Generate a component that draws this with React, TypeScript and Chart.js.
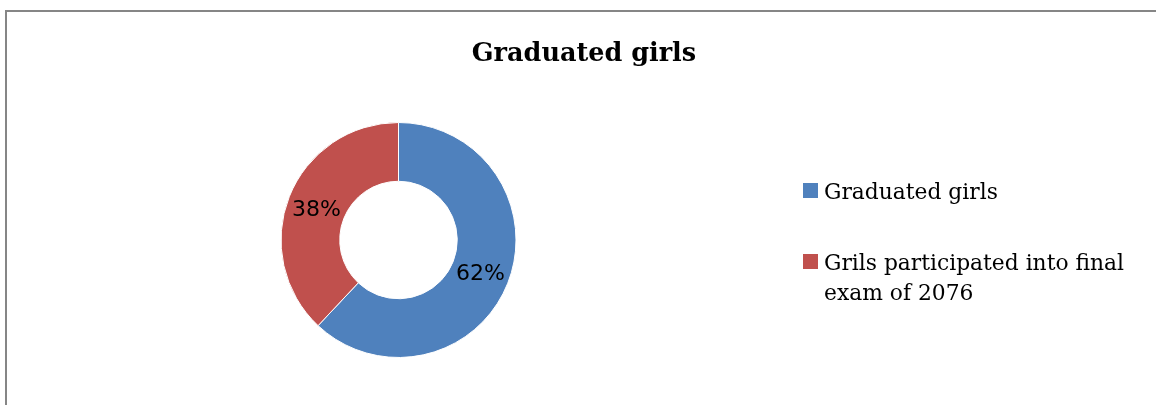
import React, { useEffect, useRef } from "react";
import { Chart, registerables } from "chart.js";

Chart.register(...registerables);

const chartTitle = "Graduated girls";
const categories = ["Graduated girls", "Grils participated into final exam of 2076"];
const values = [62, 38];
const sliceColors = ["#4F81BD", "#C0504D"];

const W = 1156;
const H = 405;

const framePlugin = {
  id: "frame",
  beforeDraw(chart: any) {
    const ctx = chart.ctx;
    ctx.save();
    ctx.fillStyle = "#ffffff";
    ctx.fillRect(0, 0, W, H);
    ctx.fillStyle = "#868686";
    ctx.fillRect(5, 10, W - 5, 2);
    ctx.fillRect(5, 10, 2, H - 10);
    ctx.restore();
  },
};

const titlePlugin = {
  id: "customTitle",
  afterDraw(chart: any) {
    const ctx = chart.ctx;
    ctx.save();
    ctx.font = "bold 25.5px 'DejaVu Serif'";
    ctx.fillStyle = "#000000";
    ctx.textAlign = "center";
    ctx.textBaseline = "alphabetic";
    ctx.fillText(chartTitle, 584, 61);
    ctx.restore();
  },
};

const labelPlugin = {
  id: "sliceLabels",
  afterDatasetsDraw(chart: any) {
    const ctx = chart.ctx;
    const meta = chart.getDatasetMeta(0);
    const data = chart.data.datasets[0].data as number[];
    const total = data.reduce((a, b) => a + b, 0);
    ctx.save();
    ctx.font = "22px 'DejaVu Sans'";
    ctx.fillStyle = "#000000";
    ctx.textAlign = "center";
    ctx.textBaseline = "alphabetic";
    meta.data.forEach((arc: any, i: number) => {
      const p = arc.tooltipPosition(false);
      const txt = Math.round((data[i] / total) * 100) + "%";
      ctx.fillText(txt, p.x, p.y + 8);
    });
    ctx.restore();
  },
};

const legendPlugin = {
  id: "customLegend",
  afterDraw(chart: any) {
    const ctx = chart.ctx;
    const labels = chart.data.labels as string[];
    const colors = chart.data.datasets[0].backgroundColor as string[];
    ctx.save();
    ctx.font = "21.8px 'DejaVu Serif'";
    ctx.textAlign = "left";
    ctx.textBaseline = "alphabetic";
    const boxX = 803;
    const textX = 824;
    const maxW = 320;
    const lineH = 30;
    let baseline = 199;
    labels.forEach((label, i) => {
      const words = label.split(" ");
      const lines: string[] = [];
      let cur = "";
      words.forEach((w) => {
        const test = cur ? cur + " " + w : w;
        if (ctx.measureText(test).width > maxW && cur) {
          lines.push(cur);
          cur = w;
        } else {
          cur = test;
        }
      });
      if (cur) lines.push(cur);
      ctx.fillStyle = colors[i];
      ctx.fillRect(boxX, baseline - 16, 15, 15);
      ctx.fillStyle = "#000000";
      lines.forEach((ln, j) => {
        ctx.fillText(ln, textX, baseline + j * lineH);
      });
      baseline += 71 + (lines.length - 1) * lineH;
    });
    ctx.restore();
  },
};

export default function App() {
  const ref = useRef<HTMLCanvasElement | null>(null);

  useEffect(() => {
    if (!ref.current) return;
    const chart = new Chart(ref.current, {
      type: "doughnut",
      data: {
        labels: categories,
        datasets: [
          {
            data: values,
            backgroundColor: sliceColors,
            borderColor: "#ffffff",
            borderWidth: 1,
            hoverOffset: 0,
          },
        ],
      },
      options: {
        responsive: false,
        animation: false,
        cutout: "50%",
        layout: {
          padding: { left: 280, right: 639, top: 122, bottom: 47 },
        },
        plugins: {
          legend: { display: false },
          title: { display: false },
          tooltip: { enabled: false },
        },
      },
      plugins: [framePlugin, labelPlugin, titlePlugin, legendPlugin],
    });
    return () => chart.destroy();
  }, []);

  return (
    <div style={{ position: "absolute", left: 0, top: 0, width: W, height: H, background: "#fff" }}>
      <canvas ref={ref} width={W} height={H} style={{ display: "block", width: W, height: H }} />
    </div>
  );
}
